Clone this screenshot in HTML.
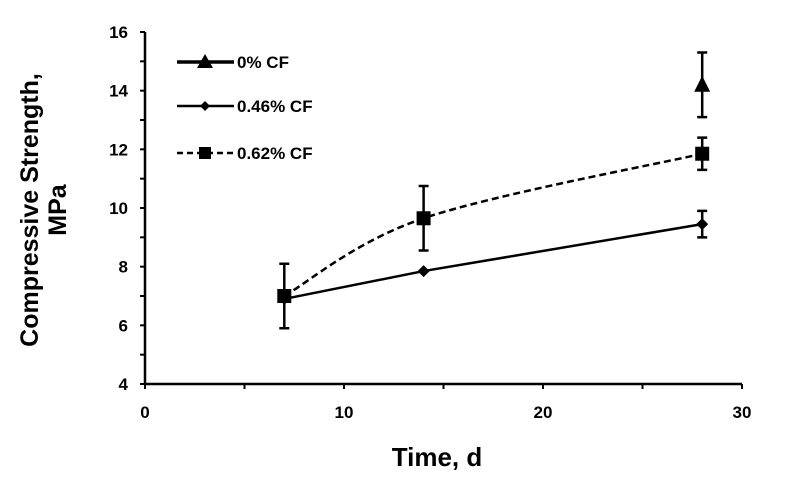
<!DOCTYPE html>
<html><head><meta charset="utf-8"><style>
body{margin:0;background:#fff}
svg text{font-family:"Liberation Sans",sans-serif;font-weight:bold;fill:#000}
</style></head><body>
<svg width="792" height="495" viewBox="0 0 792 495">
<g id="axes"></g>
<g id="series"></g>
<g id="legend"></g>
<text x="437" y="466" font-size="26" text-anchor="middle">Time, d</text>
<text transform="translate(38,210) rotate(-90)" font-size="25" text-anchor="middle"><tspan x="0" dy="0">Compressive  Strength,</tspan><tspan x="0" dy="28">MPa</tspan></text>
</svg>
<script>
const xTicks=[0,10,20,30];
const yTicks=[4,6,8,10,12,14,16];
const days=[7,14,28];
const cf046=[6.9,7.85,9.45];
const cf046Err=[0,0,0.45];
const cf062=[7.0,9.65,11.85];
const cf062Err=[1.1,1.1,0.55];
const cf0Days=[28];
const cf0=[14.2];
const cf0Err=[1.1];
const NS='http://www.w3.org/2000/svg';
const X0=145,X1=742,Y0=384,Y1=32;
const sx=v=>X0+(v-0)/30*(X1-X0);
const sy=v=>Y0-(v-4)/12*(Y0-Y1);
function mk(tag,attrs,parent){const e=document.createElementNS(NS,tag);for(const k in attrs)e.setAttribute(k,attrs[k]);parent.appendChild(e);return e;}
const ax=document.getElementById('axes'),se=document.getElementById('series'),lg=document.getElementById('legend');
let a=mk('line',{x1:X0,y1:Y0,x2:X1,y2:Y0,stroke:'#000','stroke-width':2.5},ax);


a=mk('line',{x1:X0,y1:Y0,x2:X0,y2:Y1,stroke:'#000','stroke-width':2.5},ax);


for(let v=0;v<=30;v+=5){mk('line',{x1:sx(v),y1:Y0,x2:sx(v),y2:Y0+5,stroke:'#000','stroke-width':2},ax);}
xTicks.forEach(v=>{const t=mk('text',{x:sx(v),y:418,'font-size':17,'text-anchor':'middle'},ax);t.textContent=v;

});
for(let v=4;v<=16;v+=1){mk('line',{x1:X0-5,y1:sy(v),x2:X0,y2:sy(v),stroke:'#000','stroke-width':2},ax);}
yTicks.forEach(v=>{const t=mk('text',{x:128,y:sy(v)+6,'font-size':17,'text-anchor':'end'},ax);t.textContent=v;

});
function err(x,y,e){if(!e)return;mk('path',{d:`M${sx(x)},${sy(y-e)}V${sy(y+e)}M${sx(x)-5},${sy(y-e)}h10M${sx(x)-5},${sy(y+e)}h10`,stroke:'#000','stroke-width':2.5,fill:'none'},se);}
let p=mk('polyline',{points:days.map((d,i)=>sx(d)+','+sy(cf046[i])).join(' '),fill:'none',stroke:'#000','stroke-width':2.5},se);


const pts=days.map((d,i)=>[sx(d),sy(cf062[i])]);
let d=`M${pts[0][0]},${pts[0][1]}`;
for(let i=0;i<pts.length-1;i++){const p0=pts[i-1]||pts[i],p1=pts[i],p2=pts[i+1],p3=pts[i+2]||p2;
d+=` C${p1[0]+(p2[0]-p0[0])/6},${p1[1]+(p2[1]-p0[1])/6} ${p2[0]-(p3[0]-p1[0])/6},${p2[1]-(p3[1]-p1[1])/6} ${p2[0]},${p2[1]}`;}
p=mk('path',{d:d,fill:'none',stroke:'#000','stroke-width':2.5,'stroke-dasharray':'7,4'},se);


days.forEach((dd,i)=>{err(dd,cf046[i],cf046Err[i]);err(dd,cf062[i],cf062Err[i]);});
cf0Days.forEach((dd,i)=>err(dd,cf0[i],cf0Err[i]));
days.forEach((dd,i)=>{const x=sx(dd),y=sy(cf046[i]);const m=mk('path',{d:`M${x},${y-6}L${x+6},${y}L${x},${y+6}L${x-6},${y}Z`},se);

});
days.forEach((dd,i)=>{const x=sx(dd),y=sy(cf062[i]);const m=mk('rect',{x:x-7,y:y-7,width:14,height:14},se);

});
cf0Days.forEach((dd,i)=>{const x=sx(dd),y=sy(cf0[i]);const m=mk('path',{d:`M${x},${y-9}L${x+8},${y+7}L${x-8},${y+7}Z`},se);

});
function leg(y,label,sw,dash,shape){
 mk('line',{x1:177,y1:y,x2:234,y2:y,stroke:'#000','stroke-width':sw,'stroke-dasharray':dash||'none'},lg);
 const x=205;
 if(shape==='tri')mk('path',{d:`M${x},${y-8}L${x+8},${y+6}L${x-8},${y+6}Z`},lg);
 if(shape==='dia')mk('path',{d:`M${x},${y-5}L${x+5},${y}L${x},${y+5}L${x-5},${y}Z`},lg);
 if(shape==='sq')mk('rect',{x:x-6,y:y-6,width:12,height:12},lg);
 const t=mk('text',{x:237,y:y+6,'font-size':17},lg);t.textContent=label;
 
 
}
leg(62,'0% CF',3.5,null,'tri');
leg(106,'0.46% CF',2.5,null,'dia');
leg(153,'0.62% CF',2.5,'6,4','sq');
</script>
</body></html>
